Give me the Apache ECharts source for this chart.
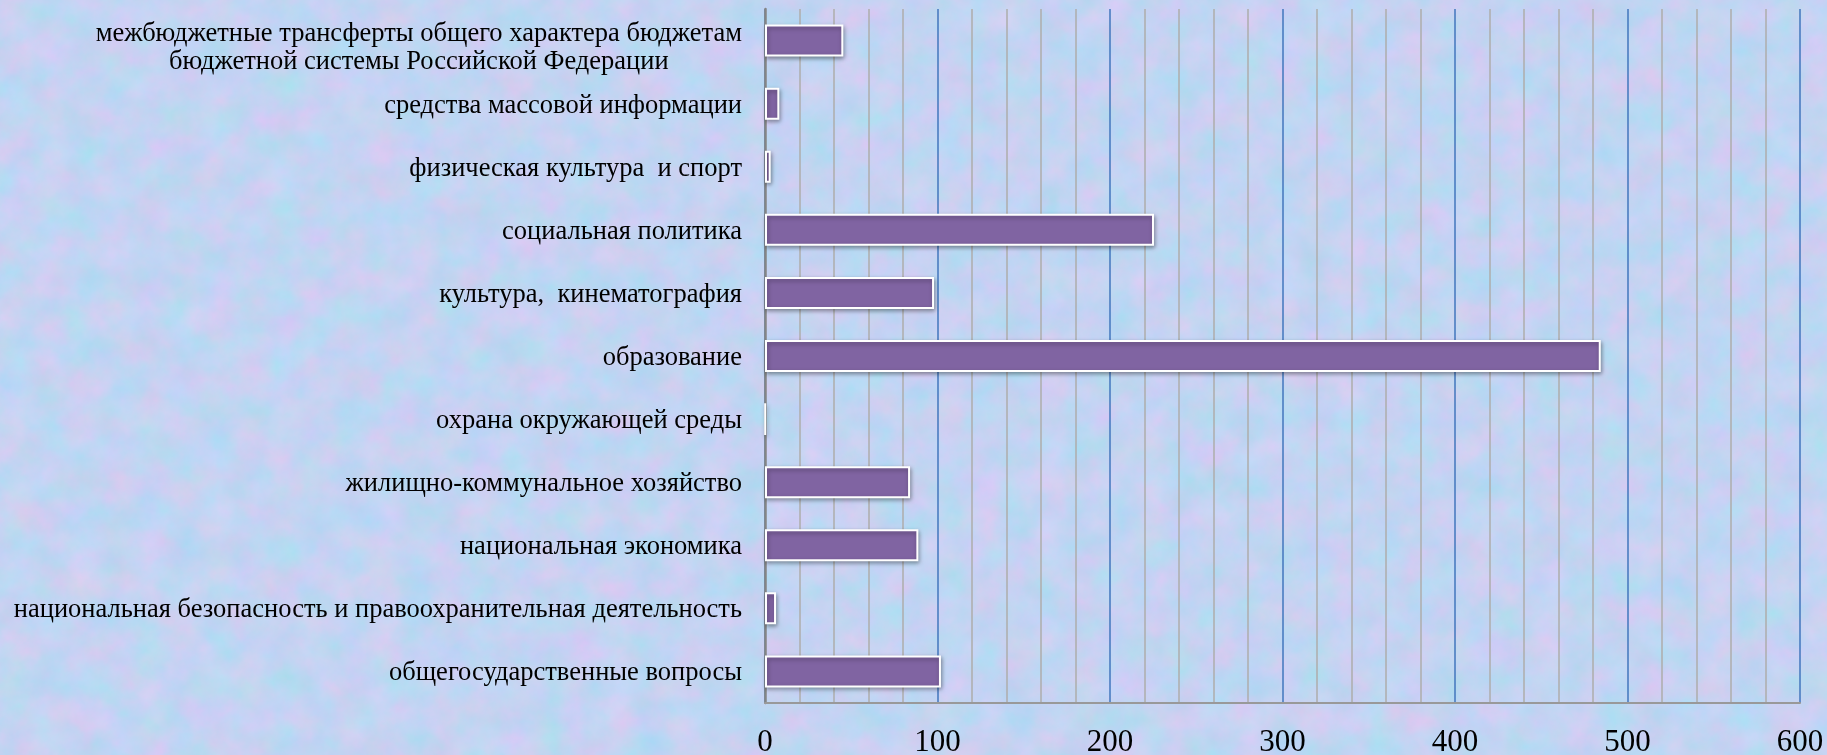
<!DOCTYPE html>
<html>
<head>
<meta charset="utf-8">
<script src="https://cdn.jsdelivr.net/npm/echarts@6/dist/echarts.min.js"></script>
<style>
html, body { margin: 0; padding: 0; width: 1827px; height: 755px; overflow: hidden; }
#bg { position: absolute; left: 0; top: 0; width: 1827px; height: 755px; }
#chart { position: absolute; left: 0; top: 0; width: 1827px; height: 755px; }
</style>
</head>
<body>
<svg id="bg" xmlns="http://www.w3.org/2000/svg" width="1827" height="755">
  <filter id="n" x="0" y="0" width="100%" height="100%" color-interpolation-filters="sRGB">
    <feTurbulence type="fractalNoise" baseFrequency="0.03" numOctaves="5" seed="11"/>
    <feColorMatrix type="matrix" values="0.22 0 0 0 0.655  -0.08 0.06 0 0 0.84  0 0 0.06 0 0.92  0 0 0 0 1"/>
  </filter>
  <rect width="1827" height="755" fill="#c4d8f2"/>
  <rect width="1827" height="755" filter="url(#n)"/>
</svg>
<div id="chart"></div>
<script>
// Categories, bottom to top (as drawn by the category axis)
var categories = [
  'общегосударственные вопросы',
  'национальная безопасность и правоохранительная деятельность',
  'национальная экономика',
  'жилищно-коммунальное хозяйство',
  'охрана окружающей среды',
  'образование',
  'культура,  кинематография',
  'социальная политика',
  'физическая культура  и спорт',
  'средства массовой информации',
  'межбюджетные трансферты общего характера бюджетам\nбюджетной системы Российской Федерации'
];
var values = [102, 6.4, 88.9, 84.1, 0.2, 484.5, 98, 225.5, 3.3, 8.3, 45.4];
var xTicks = { min: 0, max: 600, interval: 100 };

var chart = echarts.init(document.getElementById('chart'), null, { renderer: 'canvas' });
var FONT = '"Liberation Serif", "Times New Roman", serif';
var LFS = 26.5;

chart.setOption({
  backgroundColor: 'transparent',
  animation: false,
  grid: { left: 765, right: 27, top: 9, bottom: 52, containLabel: false, outerBoundsMode: 'none' },
  xAxis: {
    type: 'value',
    min: xTicks.min, max: xTicks.max, interval: xTicks.interval,
    axisLine: { show: true, onZero: false, lineStyle: { color: '#999999', width: 2 } },
    axisTick: { show: false },
    axisLabel: { color: '#000', fontFamily: FONT, fontSize: 31, margin: 24 },
    splitLine: { show: true, lineStyle: { color: '#4a7cc0', width: 1.6 } },
    minorTick: { show: false, splitNumber: 5 },
    minorSplitLine: { show: true, lineStyle: { color: '#afafaf', width: 1.6 } }
  },
  yAxis: {
    type: 'category',
    data: categories,
    axisLine: { show: true, lineStyle: { color: '#858585', width: 2.5 } },
    axisTick: { show: false },
    axisLabel: {
      color: '#000', fontFamily: FONT, fontSize: LFS, margin: 23, align: 'right',
      padding: [4, 0, 0, 0],
      formatter: function (v) {
        var parts = v.split('\n');
        if (parts.length === 1) return v;
        return parts.map(function (p, i) { return '{' + (i === 0 ? 'c1' : 'c2') + '|' + p + '}'; }).join('\n');
      },
      rich: {
        c1: { align: 'center', color: '#000', fontFamily: FONT, fontSize: LFS, lineHeight: 39 },
        c2: { align: 'center', color: '#000', fontFamily: FONT, fontSize: LFS, lineHeight: 17 }
      }
    },
    splitLine: { show: false }
  },
  series: [{
    type: 'bar',
    data: values,
    barWidth: 32,
    itemStyle: {
      color: '#8064a2',
      borderColor: '#ffffff',
      borderWidth: 2,
      shadowColor: 'rgba(0,0,0,0.35)',
      shadowBlur: 4,
      shadowOffsetX: 1,
      shadowOffsetY: 2
    }
  }]
});
</script>
</body>
</html>
